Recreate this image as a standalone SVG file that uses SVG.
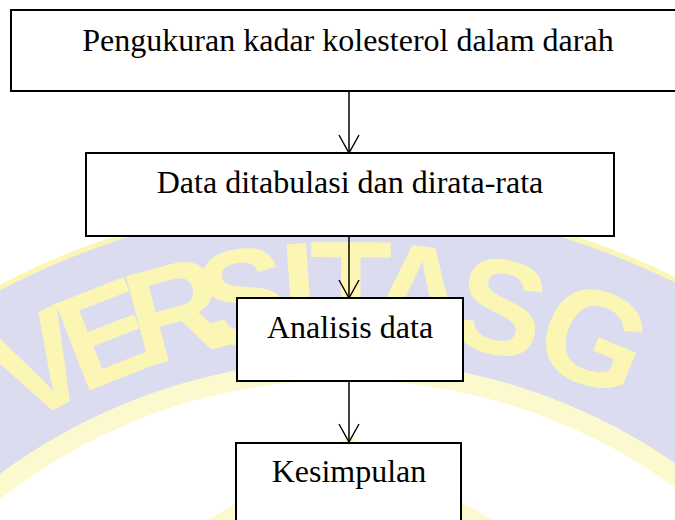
<svg xmlns="http://www.w3.org/2000/svg" width="675" height="520" viewBox="0 0 675 520">
  <style>
    .box { fill: #ffffff; stroke: #000000; stroke-width: 2; }
    .lbl { font-family: "Liberation Serif", "Times New Roman", serif; font-size: 32px; text-anchor: middle; fill: #000000; }
    .conn { stroke: #000000; stroke-width: 1.5; fill: none; }
    .wm { font-family: "Liberation Sans", Arial, sans-serif; font-weight: bold; font-size: 135px; fill: #fcf6b4; text-anchor: middle; }
  </style>
  <defs>
    <marker id="arr" markerUnits="userSpaceOnUse" markerWidth="22" markerHeight="26" viewBox="0 0 22 26" refX="19" refY="13" orient="auto">
      <path d="M1,3 L19,13 L1,23" fill="none" stroke="#000000" stroke-width="1.4"/>
    </marker>
  </defs>
  <rect width="675" height="520" fill="#ffffff"/>
  <g id="watermark">
    <circle cx="345" cy="940" r="740" fill="#dcdcf0"/>
    <circle cx="345" cy="940" r="738" fill="none" stroke="#fcf6b4" stroke-width="5"/>
    <circle cx="345" cy="940" r="580" fill="#fdf9cf"/>
    <circle cx="345" cy="940" r="560" fill="#ffffff"/>
    <polygon points="350,436 560,560 140,560" fill="#fdf9cf"/>
    <text class="wm" x="345" y="335" transform="rotate(-28 345 940)">V</text>
    <text class="wm" x="345" y="335" transform="rotate(-21.5 345 940)">E</text>
    <text class="wm" x="345" y="335" transform="rotate(-15 345 940)">R</text>
    <text class="wm" x="345" y="335" transform="rotate(-9 345 940)">S</text>
    <text class="wm" x="345" y="335" transform="rotate(-4 345 940)">I</text>
    <text class="wm" x="345" y="335" transform="rotate(0.5 345 940)">T</text>
    <text class="wm" x="345" y="335" transform="rotate(6.5 345 940)">A</text>
    <text class="wm" x="345" y="335" transform="rotate(13.8 345 940)">S</text>
    <text class="wm" x="345" y="335" transform="rotate(22.5 345 940)">G</text>
  </g>
  <g id="connectors">
    <line class="conn" x1="349" y1="92" x2="349" y2="153" marker-end="url(#arr)"/>
    <line class="conn" x1="349" y1="236" x2="349" y2="298" marker-end="url(#arr)"/>
    <line class="conn" x1="349" y1="381" x2="349" y2="442" marker-end="url(#arr)"/>
  </g>
  <g id="node1">
    <rect class="box" x="11" y="10" width="680" height="81" stroke-width="2.3"/>
    <text class="lbl" x="348" y="51">Pengukuran kadar kolesterol dalam darah</text>
  </g>
  <g id="node2">
    <rect class="box" x="86" y="153" width="528" height="83" stroke-width="1.7"/>
    <text class="lbl" x="350" y="193">Data ditabulasi dan dirata-rata</text>
  </g>
  <g id="node3">
    <rect class="box" x="237" y="298" width="226" height="83"/>
    <text class="lbl" x="350" y="338">Analisis data</text>
  </g>
  <g id="node4">
    <rect class="box" x="236" y="443" width="225" height="100"/>
    <text class="lbl" x="349" y="482">Kesimpulan</text>
  </g>
</svg>
